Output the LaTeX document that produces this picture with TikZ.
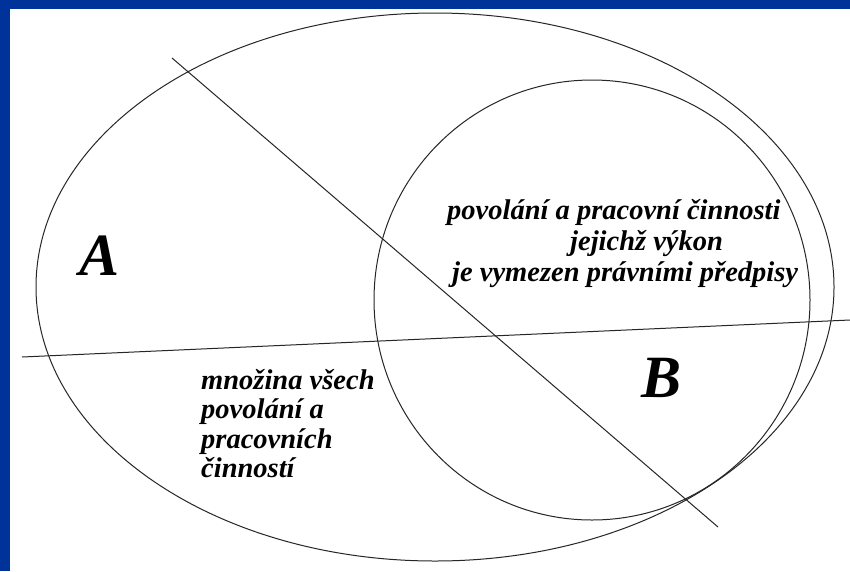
\documentclass[tikz,border=0pt]{standalone}
\usepackage{fontspec}
\setmainfont{Liberation Serif}
\usetikzlibrary{calc}
\definecolor{slideblue}{RGB}{0,51,153}

\begin{document}
\begin{tikzpicture}[x=1pt,y=-1pt,
	outline/.style={draw=black!85,line width=1pt},
	txt/.style={font=\bfseries\itshape\fontsize{28.5}{30}\selectfont,inner sep=0pt,anchor=base west},
	letter/.style={font=\bfseries\itshape\fontsize{60}{60}\selectfont,inner sep=0pt,anchor=base west},
]
	\useasboundingbox (0,0) rectangle (850,571);
	\fill[slideblue] (0,0) rectangle (850,571);
	\fill[white] (10,9) rectangle (850,571);
	% the two sets
	\draw[outline] (435,287) ellipse [x radius=399,y radius=274];
	\draw[outline] (592,300) ellipse [x radius=218,y radius=220];
	% dividing lines
	\coordinate (d1) at (172,58);
	\coordinate (d2) at (718,527);
	\coordinate (h1) at (22,357);
	\coordinate (h2) at (850,320);
	\draw[outline] (d1) -- (d2);
	\draw[outline] (h1) -- (h2);
	% labels
	\node[letter] (lA) at (79,275) {A};
	\node[letter] (lB) at (641,397) {B};
	\node[txt] (t1) at (447,219) {povolání a pracovní činnosti};
	\node[txt] (t2) at (570,250) {jejichž výkon};
	\node[txt] (t3) at (452,281) {je vymezen právními předpisy};
	\foreach \s [count=\i] in {množina všech, povolání a, pracovních, činností}{
		\node[txt] (m\i) at (201,{389+29.5*(\i-1)}) {\s};
	}
\end{tikzpicture}
\end{document}
